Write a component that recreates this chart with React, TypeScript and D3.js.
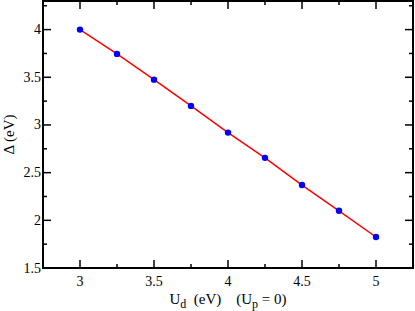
import React, { useEffect, useRef } from 'react';
import * as d3 from 'd3';

// U_d values (eV) and gap Delta (eV)
const ud = [3, 3.25, 3.5, 3.75, 4, 4.25, 4.5, 4.75, 5];
const delta = [4.0, 3.745, 3.475, 3.2, 2.92, 2.655, 2.37, 2.1, 1.825];
const xTicks = [3, 3.5, 4, 4.5, 5];
const yTicks = [1.5, 2, 2.5, 3, 3.5, 4];

const W = 415;
const H = 311;

const App = () => {
  const ref = useRef<SVGSVGElement>(null);

  useEffect(() => {
    const svg = d3.select(ref.current);
    svg.selectAll('*').remove();

    const left = 43, right = 413, top = 1, bottom = 268;
    const x = d3.scaleLinear().domain([2.75, 5.25]).range([left, right]);
    const y = d3.scaleLinear().domain([1.5, 4.3]).range([bottom, top]);

    const font = 'Liberation Serif, Times New Roman, DejaVu Serif, serif';
    const g = svg.append('g').attr('font-family', font);

    // minor + major ticks, mirrored on all sides
    const xMinor = d3.range(3.25, 5.25, 0.5);
    const yMinor = d3.range(1.75, 4.3, 0.5);
    const tick = (x1, y1, x2, y2) =>
      g.append('line').attr('x1', x1).attr('y1', y1).attr('x2', x2).attr('y2', y2)
        .attr('stroke', '#000').attr('stroke-width', 1.5);

    xTicks.forEach(t => { tick(x(t), bottom, x(t), bottom - 8); tick(x(t), top, x(t), top + 8); });
    xMinor.forEach(t => { tick(x(t), bottom, x(t), bottom - 4); tick(x(t), top, x(t), top + 4); });
    yTicks.forEach(t => { tick(left, y(t), left + 8, y(t)); tick(right, y(t), right - 8, y(t)); });
    yMinor.forEach(t => { tick(left, y(t), left + 4, y(t)); tick(right, y(t), right - 4, y(t)); });

    // frame
    g.append('rect')
      .attr('x', left).attr('y', top)
      .attr('width', right - left).attr('height', bottom - top)
      .attr('fill', 'none').attr('stroke', '#000').attr('stroke-width', 2);

    // tick labels
    g.selectAll('.xl').data(xTicks).enter().append('text')
      .attr('x', d => x(d)).attr('y', 286)
      .attr('text-anchor', 'middle')
      .attr('font-size', 14)
      .text(d => d3.format('')(d));

    g.selectAll('.yl').data(yTicks).enter().append('text')
      .attr('x', 41).attr('y', d => y(d) + 4.5)
      .attr('text-anchor', 'end')
      .attr('font-size', 14)
      .text(d => d3.format('')(d));

    // line
    const line = d3.line<number>().x((d, i) => x(ud[i])).y(d => y(d));
    g.append('path').datum(delta)
      .attr('d', line)
      .attr('fill', 'none').attr('stroke', '#ff0000').attr('stroke-width', 1.5);

    g.selectAll('circle').data(delta).enter().append('circle')
      .attr('cx', (d, i) => x(ud[i])).attr('cy', d => y(d))
      .attr('r', 3.2).attr('fill', '#0000ff');

    // axis titles
    const xl = g.append('text')
      .attr('x', 228).attr('y', 304)
      .attr('text-anchor', 'middle')
      .attr('font-size', 15);
    xl.append('tspan').text('U');
    xl.append('tspan').attr('dy', 4).attr('font-size', 12).text('d');
    xl.append('tspan').attr('dy', -4).text('\u00a0\u00a0(eV)\u00a0\u00a0\u00a0\u00a0(U');
    xl.append('tspan').attr('dy', 4).attr('font-size', 12).text('p');
    xl.append('tspan').attr('dy', -4).text('\u00a0= 0)');

    g.append('text')
      .attr('transform', `translate(14,${(top + bottom) / 2}) rotate(-90)`)
      .attr('text-anchor', 'middle')
      .attr('font-size', 15)
      .text('\u0394 (eV)');
  }, []);

  return (
    <svg ref={ref} width={W} height={H}
      style={{ position: 'absolute', left: 0, top: 0, background: '#fff' }} />
  );
};

export default App;
